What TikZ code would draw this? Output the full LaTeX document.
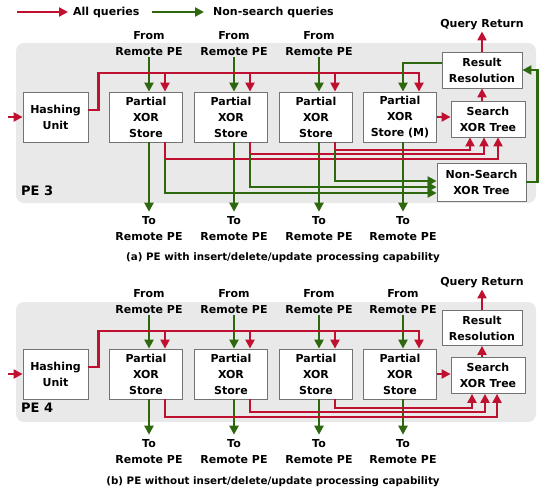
\documentclass[tikz,border=0pt]{standalone}
\usepackage{fontspec}
\setmainfont{DejaVu Sans}
\usetikzlibrary{arrows.meta,calc}
\definecolor{qred}{RGB}{192,16,48}
\definecolor{qgreen}{RGB}{46,104,14}
\tikzset{
  unit/.style={draw=black!55, line width=0.8pt, fill=white, align=center, inner sep=0pt,
    font=\bfseries\fontsize{11}{16}\selectfont},
  lbl/.style={align=center, inner sep=1pt, font=\bfseries\fontsize{11}{16}\selectfont},
  pelbl/.style={anchor=west, inner sep=0pt, font=\bfseries\fontsize{13}{15}\selectfont},
  capt/.style={font=\bfseries\fontsize{10.3}{12}\selectfont},
  rd/.style={draw=qred, line width=2.2pt},
  gn/.style={draw=qgreen, line width=2.2pt},
  panel/.style={fill=gray!17, rounded corners=8pt},
  >={Triangle[length=9pt,width=9pt]}
}
\begin{document}
\begin{tikzpicture}[x=1pt,y=-1pt]
  \useasboundingbox (0,0) rectangle (539,491);
  % legend
  \node[lbl,anchor=west] (lgall) at (72,12) {All queries};
  \node[lbl,anchor=west] (lgns) at (212,12) {Non-search queries};
  \coordinate (lga) at (17,12);
  \coordinate (lgn) at (152,12);
  \draw[rd,->,shorten >=4pt] (lga) -- (lgall);
  \draw[gn,->,shorten >=8pt] (lgn) -- (lgns);

  % (a) PE 3
  \fill[panel] (16,43) rectangle (536,203);
  \node[pelbl] (pe3) at (21,191) {PE 3};
  \node[unit, minimum width=65pt, minimum height=50pt] (hash) at (55.5,117) {Hashing\\Unit};
  \foreach \i/\x/\t in {1/146/Store,2/231/Store,3/316/Store,4/400/{Store (M)}}
    \node[unit, minimum width=73pt, minimum height=50pt] (st\i) at (\x,117) {Partial\\XOR\\\t};
  \node[unit, minimum width=80pt, minimum height=36pt] (result) at (482,70) {Result\\Resolution};
  \node[unit, minimum width=74pt, minimum height=36pt] (search) at (488,119) {Search\\XOR Tree};
  \node[unit, minimum width=89pt, minimum height=38pt] (nsearch) at (481.5,182) {Non-Search\\XOR Tree};
  \node[lbl] (qret) at (482,25) {Query Return};
  \coordinate (in) at (8,117);
  \draw[rd,->] (in) -- (hash);
  % from / to remote PE
  \foreach \i/\x in {1/149,2/234,3/319} {
    \node[lbl] (from\i) at (\x,44) {From\\Remote PE};
    \draw[gn,->] (from\i) -- (from\i |- st\i.north);
  }
  \foreach \i/\x in {1/149,2/234,3/319,4/403} {
    \node[lbl] (to\i) at (\x,229) {To\\Remote PE};
    \draw[gn,->,shorten >=4pt] (st\i.south -| to\i) -- (to\i);
  }
  % query bus
  \foreach \i in {1,...,4}
    \coordinate (bus\i) at ($(st\i.north)+(19,-19)$);
  \draw[rd,->] ([yshift=7pt]hash.east) -- ++(10,0) |- (bus4) -- (bus4 |- st4.north);
  \foreach \i in {1,2,3}
    \draw[rd,->] (bus\i) -- (bus\i |- st\i.north);
  \draw[rd,->] (st4.east) -- (st4.east -| search.west);
  \draw[rd,->] (search.north -| result.south) -- (result.south);
  \draw[rd,->] (result) -- (qret);
  \draw[gn,->] ([yshift=7pt]result.west) -| ($(st4.north)+(3,0)$);
  \draw[gn,->] (nsearch.east) -- ++(11,0) |- (result.east);
  % store outputs
  \foreach \i/\ry/\gy/\sx in {1/159/193/10,2/154/187/-4,3/150/181/-18} {
    \coordinate (out\i) at ($(st\i.south)+(19,0)$);
    \draw[rd,->] (out\i) -- (out\i |- 0,\ry) -| ($(search.south)+(\sx,0)$);
  }
  \foreach \i/\ry/\gy in {1/159/193,2/154/187,3/150/181}
    \draw[gn,->] (out\i |- 0,\ry) -- (out\i |- 0,\gy) -- (nsearch.west |- 0,\gy);
  \node[capt] (capa) at (283,258) {(a) PE with insert/delete/update processing capability};

  % (b) PE 4
  \begin{scope}[shift={(0,257)}]
    \fill[panel] (16,45) rectangle (536,165);
    \node[pelbl] (pe4) at (21,151) {PE 4};
    \node[unit, minimum width=65pt, minimum height=50pt] (bhash) at (55.5,117) {Hashing\\Unit};
    \foreach \i/\x in {1/146,2/231,3/316,4/400}
      \node[unit, minimum width=73pt, minimum height=50pt] (bst\i) at (\x,117) {Partial\\XOR\\Store};
    \node[unit, minimum width=80pt, minimum height=35pt] (bresult) at (482,71) {Result\\Resolution};
    \node[unit, minimum width=74pt, minimum height=36pt] (bsearch) at (488,118.5) {Search\\XOR Tree};
    \node[lbl] (bqret) at (482,26) {Query Return};
    \coordinate (bin) at (8,117);
    \draw[rd,->] (bin) -- (bhash);
    % from / to remote PE
    \foreach \i/\x in {1/149,2/234,3/319,4/403} {
      \node[lbl] (bfrom\i) at (\x,45) {From\\Remote PE};
      \draw[gn,->] (bfrom\i) -- (bfrom\i |- bst\i.north);
      \node[lbl] (bto\i) at (\x,195) {To\\Remote PE};
      \draw[gn,->,shorten >=4pt] (bst\i.south -| bto\i) -- (bto\i);
    }
    % query bus
    \foreach \i in {1,...,4}
      \coordinate (bbus\i) at ($(bst\i.north)+(19,-18)$);
    \draw[rd,->] ([yshift=7pt]bhash.east) -- ++(10,0) |- (bbus4) -- (bbus4 |- bst4.north);
    \foreach \i in {1,2,3}
      \draw[rd,->] (bbus\i) -- (bbus\i |- bst\i.north);
    \draw[rd,->] (bst4.east) -- (bst4.east -| bsearch.west);
    \draw[rd,->] (bsearch.north -| bresult.south) -- (bresult.south);
    \draw[rd,->] (bresult) -- (bqret);
    % store outputs
    \foreach \i/\ry/\sx in {1/160/9,2/155/-3,3/151/-16} {
      \coordinate (bout\i) at ($(bst\i.south)+(19,0)$);
      \draw[rd,->] (bout\i) -- (bout\i |- 0,\ry) -| ($(bsearch.south)+(\sx,0)$);
    }
    \node[capt] (capb) at (273,225) {(b) PE without insert/delete/update processing capability};
  \end{scope}
\end{tikzpicture}
\end{document}
